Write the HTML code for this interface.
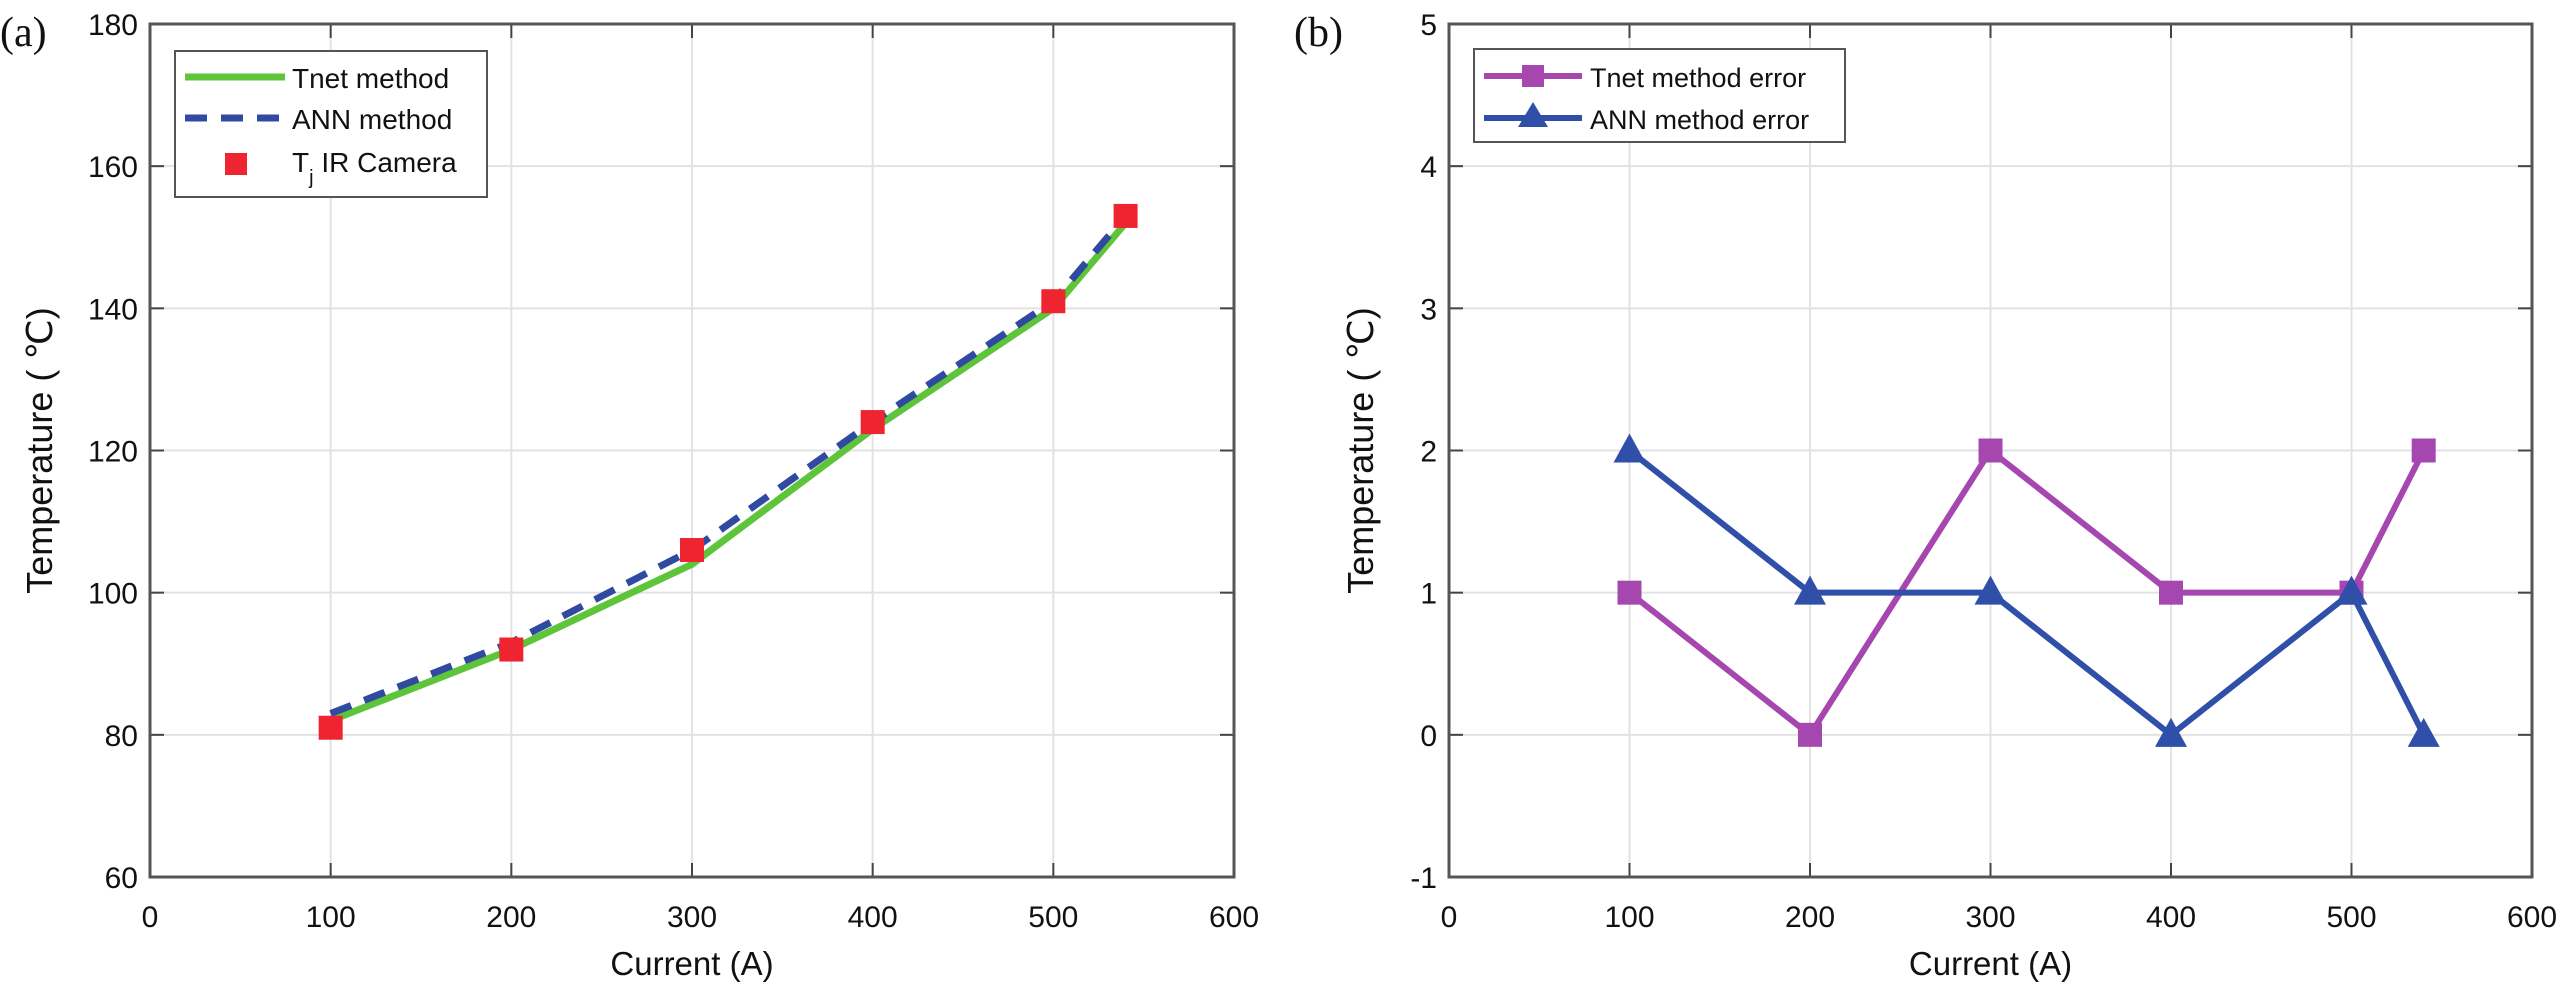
<!DOCTYPE html>
<html><head><meta charset="utf-8"><style>
html,body{margin:0;padding:0;background:#fff;}
svg{display:block;font-family:"Liberation Sans",sans-serif;}
</style></head><body>
<svg id="chart" width="2559" height="994" viewBox="0 0 2559 994" xmlns="http://www.w3.org/2000/svg"></svg>
<script>
const xTicks=[0,100,200,300,400,500,600];
const currents=[100,200,300,400,500,540];
const tnetTemp=[82,92,104,123,140,152];
const annTemp=[83,93,106,124,141,153];
const irTemp=[81,92,106,124,141,153];
const yTicksA=[60,80,100,120,140,160,180];
const tnetErr=[1,0,2,1,1,2];
const annErr=[2,1,1,0,1,0];
const yTicksB=[-1,0,1,2,3,4,5];

const NS="http://www.w3.org/2000/svg";
const svg=document.getElementById('chart');
function mk(tag,attrs,parent){const e=document.createElementNS(NS,tag);for(const k in attrs)e.setAttribute(k,attrs[k]);(parent||svg).appendChild(e);return e;}

function panel(name,L,R,T,B,xmin,xmax,ymin,ymax,yTicks,label,labelX){
  const g=mk('g',{});
  
  
  const sx=v=>L+(v-xmin)/(xmax-xmin)*(R-L);
  const sy=v=>B-(v-ymin)/(ymax-ymin)*(B-T);
  mk('rect',{x:L,y:T,width:R-L,height:B-T,fill:'#fff'},g);
  xTicks.forEach(t=>{
    const l=mk('line',{x1:sx(t),x2:sx(t),y1:T,y2:B,stroke:'#e2e2e2','stroke-width':2},g);
    
    
    mk('line',{x1:sx(t),x2:sx(t),y1:B,y2:B-14,stroke:'#444','stroke-width':2},g);
    mk('line',{x1:sx(t),x2:sx(t),y1:T,y2:T+14,stroke:'#444','stroke-width':2},g);
    const tx=mk('text',{x:sx(t),y:B+50,'font-size':30,'text-anchor':'middle',fill:'#111'},g);
    tx.textContent=t;
    
    
  });
  yTicks.forEach(t=>{
    const l=mk('line',{x1:L,x2:R,y1:sy(t),y2:sy(t),stroke:'#e2e2e2','stroke-width':2},g);
    
    
    mk('line',{x1:L,x2:L+14,y1:sy(t),y2:sy(t),stroke:'#444','stroke-width':2},g);
    mk('line',{x1:R,x2:R-14,y1:sy(t),y2:sy(t),stroke:'#444','stroke-width':2},g);
    const tx=mk('text',{x:L-12,y:sy(t)+11,'font-size':30,'text-anchor':'end',fill:'#111'},g);
    tx.textContent=t;
    
    
  });
  const box=mk('rect',{x:L,y:T,width:R-L,height:B-T,fill:'none',stroke:'#555','stroke-width':3},g);
  
  
  const xl=mk('text',{x:(L+R)/2,y:975,'font-size':33,'text-anchor':'middle',fill:'#111'},g);
  xl.textContent='Current (A)';
  
  
  const yl=mk('text',{x:labelX,y:(T+B)/2,'font-size':36,'text-anchor':'middle',fill:'#111',transform:`rotate(-90 ${labelX} ${(T+B)/2})`},g);
  yl.textContent='Temperature ( ℃)';
  
  
  const pl=mk('text',{x:L-150+(name==='panel-a'?0:-5),y:T+22,'font-size':42,'font-family':'Liberation Serif, serif',fill:'#111'},g);
  pl.textContent=label;
  
  
  return {g,sx,sy};
}
function pts(xs,ys,sx,sy){return xs.map((x,i)=>sx(x)+','+sy(ys[i])).join(' ');}

// Panel A
const A=panel('panel-a',150,1234,24,877,0,600,60,180,yTicksA,'(a)',52);
let p=mk('polyline',{points:pts(currents,tnetTemp,A.sx,A.sy),fill:'none',stroke:'#5ec43a','stroke-width':7},A.g);


p=mk('polyline',{points:pts(currents,annTemp,A.sx,A.sy),fill:'none',stroke:'#2f4aa0','stroke-width':7,'stroke-dasharray':'22,14'},A.g);


currents.forEach((c,i)=>{
  const r=mk('rect',{x:A.sx(c)-12,y:A.sy(irTemp[i])-12,width:24,height:24,fill:'#ee2430'},A.g);
  
  
});
const legA=mk('g',{});


mk('rect',{x:175,y:51,width:312,height:146,fill:'#fff',stroke:'#555','stroke-width':2},legA);
mk('line',{x1:185,x2:285,y1:77,y2:77,stroke:'#5ec43a','stroke-width':7},legA);
mk('line',{x1:185,x2:285,y1:118,y2:118,stroke:'#2f4aa0','stroke-width':7,'stroke-dasharray':'22,14'},legA);
mk('rect',{x:225,y:153,width:22,height:22,fill:'#ee2430'},legA);
let t=mk('text',{x:292,y:88,'font-size':28,fill:'#111'},legA);t.textContent='Tnet method';
t=mk('text',{x:292,y:129,'font-size':28,fill:'#111'},legA);t.textContent='ANN method';
t=mk('text',{x:292,y:172,'font-size':28,fill:'#111'},legA);
t.innerHTML='T<tspan dy="12" font-size="20">j</tspan><tspan dy="-12"> IR Camera</tspan>';

// Panel B
const B=panel('panel-b',1449,2532,24,877,0,600,-1,5,yTicksB,'(b)',1373);
p=mk('polyline',{points:pts(currents,tnetErr,B.sx,B.sy),fill:'none',stroke:'#a647b0','stroke-width':6},B.g);


p=mk('polyline',{points:pts(currents,annErr,B.sx,B.sy),fill:'none',stroke:'#2f4fa8','stroke-width':6},B.g);


currents.forEach((c,i)=>{
  const r=mk('rect',{x:B.sx(c)-12,y:B.sy(tnetErr[i])-12,width:24,height:24,fill:'#a647b0'},B.g);
  
  
});
currents.forEach((c,i)=>{
  const x=B.sx(c),y=B.sy(annErr[i]);
  const tr=mk('polygon',{points:`${x},${y-17} ${x-16},${y+12} ${x+16},${y+12}`,fill:'#2f4fa8'},B.g);
  
  
});
const legB=mk('g',{});


mk('rect',{x:1474,y:49,width:371,height:93,fill:'#fff',stroke:'#555','stroke-width':2},legB);
mk('line',{x1:1484,x2:1582,y1:76,y2:76,stroke:'#a647b0','stroke-width':6},legB);
mk('rect',{x:1522,y:65,width:22,height:22,fill:'#a647b0'},legB);
mk('line',{x1:1484,x2:1582,y1:118,y2:118,stroke:'#2f4fa8','stroke-width':6},legB);
mk('polygon',{points:'1533,102 1518,127 1548,127',fill:'#2f4fa8'},legB);
t=mk('text',{x:1590,y:87,'font-size':27,fill:'#111'},legB);t.textContent='Tnet method error';
t=mk('text',{x:1590,y:129,'font-size':27,fill:'#111'},legB);t.textContent='ANN method error';
</script>
</body></html>
